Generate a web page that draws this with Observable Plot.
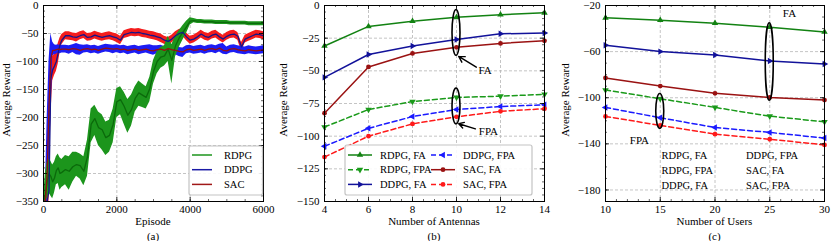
<!DOCTYPE html>
<html><head><meta charset="utf-8">
<script src="https://cdn.jsdelivr.net/npm/d3@7"></script>
<script src="https://cdn.jsdelivr.net/npm/@observablehq/plot@0.6"></script>
<style>
body{margin:0;background:#fff;}
#root{position:relative;width:831px;height:241px;overflow:hidden;font-family:"Liberation Serif","Times New Roman",serif;color:#000;}
.panel{position:absolute;top:0;}
.lbl{position:absolute;font-size:11px;white-space:nowrap;transform:translate(-50%,-50%);}
.ylbl{position:absolute;font-size:11px;white-space:nowrap;transform:translate(-50%,-50%) rotate(-90deg);}
</style></head><body><div id="root"></div>
<script>
// ---------- Panel (a): training curves ----------
const episodes = [0,50,100,150,200,250,300,350,400,450,500,600,700,800,900,1000,1100,1200,1300,1400,1500,1600,1700,1800,1900,2000,2100,2200,2300,2400,2500,2600,2700,2800,2900,3000,3100,3200,3300,3400,3500,3600,3700,3800,3900,4000,4100,4200,4300,4400,4500,4600,4700,4800,4900,5000,5100,5200,5300,5400,5500,5600,5700,5800,5900,6000];
const rdpgMean = [-350,-340,-315,-300,-305,-315,-308,-295,-290,-300,-298,-293,-296,-288,-284,-286,-296,-270,-212,-202,-218,-222,-236,-232,-212,-172,-168,-180,-196,-186,-166,-156,-160,-164,-148,-118,-100,-92,-90,-78,-98,-72,-58,-48,-38,-28,-27,-28,-28,-29,-29,-29,-30,-30,-30,-30,-31,-31,-31,-31,-31,-32,-32,-32,-32,-32];
const rdpgLo = [-350,-350,-345,-335,-340,-345,-335,-320,-318,-330,-325,-320,-330,-315,-305,-310,-322,-305,-245,-232,-250,-258,-268,-262,-245,-200,-195,-212,-228,-215,-190,-180,-182,-185,-172,-140,-122,-112,-108,-100,-140,-92,-75,-62,-50,-35,-31,-32,-32,-33,-33,-33,-34,-34,-34,-34,-35,-35,-35,-35,-35,-36,-36,-36,-36,-36];
const rdpgHi = [-345,-300,-280,-275,-278,-285,-280,-270,-265,-272,-275,-268,-270,-262,-262,-265,-270,-240,-185,-178,-190,-195,-208,-205,-185,-148,-145,-155,-168,-160,-145,-135,-140,-145,-128,-98,-82,-75,-72,-55,-70,-55,-45,-36,-28,-22,-23,-25,-25,-26,-26,-26,-27,-27,-27,-27,-28,-28,-28,-28,-28,-29,-29,-29,-29,-29];
const ddpgMean = [-350,-350,-350,-330,-130,-115,-108,-100,-85,-70,-62,-54,-54,-56,-57,-54,-52,-57,-56,-53,-55,-57,-55,-54,-56,-58,-62,-52,-50,-48,-49,-48,-50,-51,-53,-54,-56,-58,-62,-64,-60,-54,-50,-48,-56,-62,-60,-56,-51,-55,-57,-53,-51,-56,-60,-55,-52,-51,-55,-74,-60,-57,-54,-51,-52,-54];
const ddpgLo = [-350,-350,-350,-350,-200,-135,-125,-118,-105,-85,-70,-61,-62,-63,-65,-61,-59,-64,-63,-60,-62,-64,-62,-61,-63,-66,-70,-59,-57,-55,-56,-55,-57,-58,-60,-61,-63,-66,-69,-72,-67,-61,-57,-55,-63,-69,-67,-63,-58,-62,-64,-60,-58,-63,-67,-62,-59,-58,-62,-82,-67,-64,-61,-58,-59,-61];
const ddpgHi = [-350,-350,-345,-250,-100,-90,-88,-82,-68,-58,-52,-47,-47,-49,-50,-47,-45,-50,-49,-46,-48,-50,-48,-47,-49,-51,-55,-45,-43,-41,-42,-41,-43,-44,-46,-47,-49,-51,-55,-57,-53,-47,-43,-41,-49,-55,-53,-49,-44,-48,-50,-46,-44,-49,-53,-48,-45,-44,-48,-66,-53,-50,-47,-44,-45,-47];
const sacMean = [-350,-350,-300,-180,-95,-80,-80,-79,-78,-79,-78,-78,-79,-77,-78,-80,-78,-77,-79,-78,-80,-78,-76,-77,-78,-77,-79,-78,-80,-79,-78,-80,-79,-78,-80,-81,-79,-78,-80,-77,-79,-80,-82,-83,-79,-78,-80,-79,-78,-80,-78,-77,-79,-76,-80,-81,-78,-77,-79,-80,-81,-79,-80,-81,-80,-79];
const sacLo = [-350,-350,-350,-300,-200,-90,-88,-87,-85,-86,-85,-85,-87,-84,-88,-89,-85,-84,-86,-85,-87,-85,-83,-84,-86,-84,-86,-85,-88,-86,-85,-88,-86,-85,-87,-89,-86,-85,-87,-84,-87,-88,-91,-93,-86,-85,-87,-86,-85,-87,-85,-84,-86,-83,-87,-88,-85,-84,-86,-87,-88,-86,-87,-88,-87,-86];
const sacHi = [-350,-330,-200,-100,-50,-65,-70,-71,-70,-72,-71,-71,-72,-70,-68,-70,-71,-70,-72,-71,-73,-71,-69,-70,-71,-70,-72,-71,-73,-72,-71,-73,-72,-71,-70,-72,-72,-71,-73,-70,-72,-73,-75,-76,-72,-71,-73,-72,-71,-73,-71,-70,-72,-69,-68,-74,-71,-70,-72,-73,-74,-72,-73,-74,-73,-72];
const legendA = ["RDPG","DDPG","SAC"];

// ---------- Panel (b): vs number of antennas ----------
const antennas = [4,6,8,10,12,14];
const rdpgFA_b  = [-31,-16,-12,-9,-7,-5.6];
const rdpgFPA_b = [-93,-79.6,-73.5,-70.4,-69.4,-68];
const ddpgFA_b  = [-55,-37.5,-31,-26,-21.7,-21];
const ddpgFPA_b = [-107.7,-94,-85,-79.6,-77.3,-76];
const sacFA_b   = [-82.4,-47,-36.7,-32,-29,-27];
const sacFPA_b  = [-116,-100,-90.6,-85.2,-81,-79];

// ---------- Panel (c): vs number of users ----------
const users = [10,15,20,25,30];
const rdpgFA_c  = [-30.7,-32.8,-35.4,-38.8,-42.9];
const rdpgFPA_c = [-93.3,-100.9,-108.4,-116,-120.9];
const ddpgFA_c  = [-54.5,-60,-62.9,-68.1,-70.7];
const ddpgFPA_c = [-108.4,-117.4,-125.8,-130.1,-135];
const sacFA_c   = [-82.9,-89.9,-96.2,-99.7,-102];
const sacFPA_c  = [-116.2,-124,-131.6,-136,-140.9];

const seriesNames = ["RDPG, FA","RDPG, FPA","DDPG, FA","DDPG, FPA","SAC, FA","SAC, FPA"];

// annotations (data coordinates)
const ellipsesB = [{x:10, top:-3.5, bottom:-38.5},{x:10, top:-63.6, bottom:-91}];
const arrowsB = [{x1:10.9,y1:-47.2,x2:10.1,y2:-39},{x1:10.86,y1:-94.4,x2:10.1,y2:-90.5}];
const notesB = [{x:11.3,y:-49.7,t:"FA"},{x:11.45,y:-96.2,t:"FPA"}];
const ellipsesC = [{x:25, top:-35.4, bottom:-102.6},{x:15, top:-96.8, bottom:-127}];
const notesC = [{x:26.8,y:-27.3,t:"FA"},{x:13.1,y:-136.8,t:"FPA"}];

// ---------- styles ----------
const C = {
  rdpgBand:"#1c951c", rdpgLine:"#0b6a0b", rdpgLeg:"#1c951c",
  upBand:"#f41c1c", upLine:"#15158a", lowBand:"#1c1cf4", lowLine:"#941010",
  ddpgLeg:"#1a1aa6", sacLeg:"#a01818",
  fa:{RDPG:"#128212", DDPG:"#12129a", SAC:"#9a1212"},
  fpa:{RDPG:"#1a9a1a", DDPG:"#1a1aff", SAC:"#ff1a1a"}
};
const fmt = d => d < 0 ? "\u2212" + Math.abs(d) : String(d);
function triSym(deg){ return {draw(ctx,size){ const R=Math.sqrt(size/1.299); for(let i=0;i<3;i++){const a=(deg+i*120-90)*Math.PI/180; const x=R*Math.cos(a), y=R*Math.sin(a); if(i) ctx.lineTo(x,y); else ctx.moveTo(x,y);} ctx.closePath(); }}; }
const SYM = {"RDPG, FA":triSym(0),"RDPG, FPA":triSym(180),"DDPG, FA":triSym(90),"DDPG, FPA":triSym(270),"SAC, FA":d3.symbolCircle,"SAC, FPA":d3.symbolCircle};
const COL = {"RDPG, FA":C.fa.RDPG,"RDPG, FPA":C.fpa.RDPG,"DDPG, FA":C.fa.DDPG,"DDPG, FPA":C.fpa.DDPG,"SAC, FA":C.fa.SAC,"SAC, FPA":C.fpa.SAC};
const DASH = name => name.endsWith("FPA") ? "5,3" : null;

const H = 225, MT = 5, MB = 24;
function range(a,b,s){ const r=[]; for(let v=a; v<=b+1e-9; v+=s) r.push(+v.toFixed(6)); return r; }

function panel({width, ml, mr, xDomain, yDomain, xMajor, xMinor, yMajor, yMinor, marks}) {
  const iw = width - ml - mr, ih = H - MT - MB;
  return Plot.plot({
    width, height: H, marginLeft: ml, marginRight: mr, marginTop: MT, marginBottom: MB,
    x: {domain: xDomain}, y: {domain: yDomain},
    style: {fontFamily: "'Liberation Serif','Times New Roman',serif", fontSize: "11px", color: "black", background: "transparent", overflow: "visible"},
    marks: [
      Plot.ruleX(xMajor, {stroke: "#b5b5b5", strokeDasharray: "3,2", strokeWidth: 0.8}),
      Plot.ruleY(yMajor, {stroke: "#b5b5b5", strokeDasharray: "3,2", strokeWidth: 0.8}),
      ...marks,
      Plot.tickX(xMajor, {insetTop: ih-4, stroke: "black", strokeWidth: 0.8}),
      Plot.tickX(xMajor, {insetBottom: ih-4, stroke: "black", strokeWidth: 0.8}),
      Plot.tickX(xMinor, {insetTop: ih-2, stroke: "black", strokeWidth: 0.6}),
      Plot.tickX(xMinor, {insetBottom: ih-2, stroke: "black", strokeWidth: 0.6}),
      Plot.tickY(yMajor, {insetRight: iw-4, stroke: "black", strokeWidth: 0.8}),
      Plot.tickY(yMajor, {insetLeft: iw-4, stroke: "black", strokeWidth: 0.8}),
      Plot.tickY(yMinor, {insetRight: iw-2, stroke: "black", strokeWidth: 0.6}),
      Plot.tickY(yMinor, {insetLeft: iw-2, stroke: "black", strokeWidth: 0.6}),
      Plot.frame({stroke: "black", strokeWidth: 1}),
      Plot.axisX(xMajor, {tickSize: 0, tickPadding: 4, tickFormat: fmt, label: null, fontSize: 11}),
      Plot.axisY(yMajor, {tickSize: 0, tickPadding: 5, tickFormat: fmt, label: null, fontSize: 11})
    ]
  });
}

function ellipseMark(list){
  return (index, scales) => {
    const g = d3.create("svg:g");
    for (const e of list) {
      const cx = scales.x(e.x), y1 = scales.y(e.top), y2 = scales.y(e.bottom);
      g.append("ellipse").attr("cx", cx).attr("cy", (y1+y2)/2).attr("rx", 4).attr("ry", Math.abs(y2-y1)/2)
        .attr("fill","none").attr("stroke","black").attr("stroke-width",1.6);
    }
    return g.node();
  };
}

function seriesMarks(xs, table){
  const out = [];
  for (const name of seriesNames) {
    const rows = xs.map((x,i) => ({x, y: table[name][i]}));
    out.push(Plot.line(rows, {x:"x", y:"y", stroke: COL[name], strokeWidth: 1.5, strokeDasharray: DASH(name)}));
    out.push(Plot.dot(rows, {x:"x", y:"y", symbol: SYM[name], r: 2.4, fill: COL[name], stroke: "none"}));
  }
  return out;
}

const root = document.getElementById("root");
function place(node, left){ node.style.position="absolute"; node.style.left=left+"px"; node.style.top="0px"; root.appendChild(node); }

// Panel a
const rowsA = episodes.map((e,i) => ({e, rm:rdpgMean[i], rl:rdpgLo[i], rh:rdpgHi[i], dm:ddpgMean[i], dl:ddpgLo[i], dh:ddpgHi[i], sm:sacMean[i], sl:sacLo[i], sh:sacHi[i]}));
const plotA = panel({
  width: 277, ml: 43, mr: 14, xDomain: [0,6000], yDomain: [-350,0],
  xMajor: [0,2000,4000,6000], xMinor: range(0,6000,500), yMajor: range(-350,0,50), yMinor: range(-350,0,10),
  marks: [
    Plot.areaY(rowsA, {x:"e", y1:"dl", y2:"dh", fill: C.upBand, clip: true}),
    Plot.areaY(rowsA, {x:"e", y1:"sl", y2:"sh", fill: C.lowBand, clip: true}),
    Plot.areaY(rowsA, {x:"e", y1:"rl", y2:"rh", fill: C.rdpgBand, clip: true}),
    Plot.line(rowsA, {x:"e", y:"rm", stroke: C.rdpgLine, strokeWidth: 1.3, clip: true}),
    Plot.line(rowsA, {x:"e", y:"dm", stroke: C.upLine, strokeWidth: 1.3, clip: true}),
    Plot.line(rowsA, {x:"e", y:"sm", stroke: C.lowLine, strokeWidth: 1.3, clip: true})
  ]
});
place(plotA, 0);

// Panel b
const tableB = {"RDPG, FA":rdpgFA_b,"RDPG, FPA":rdpgFPA_b,"DDPG, FA":ddpgFA_b,"DDPG, FPA":ddpgFPA_b,"SAC, FA":sacFA_b,"SAC, FPA":sacFPA_b};
const plotB = panel({
  width: 277, ml: 47, mr: 10, xDomain: [4,14], yDomain: [-150,0],
  xMajor: antennas, xMinor: range(4,14,0.5), yMajor: range(-150,0,25), yMinor: range(-150,0,5),
  marks: [
    ...seriesMarks(antennas, tableB),
    ellipseMark(ellipsesB),
    Plot.arrow(arrowsB, {x1:"x1", y1:"y1", x2:"x2", y2:"y2", stroke:"black", strokeWidth:1.4, headLength:7}),
    Plot.text(notesB, {x:"x", y:"y", text:"t", fontSize: 11, fill:"black"})
  ]
});
place(plotB, 277);

// Panel c
const tableC = {"RDPG, FA":rdpgFA_c,"RDPG, FPA":rdpgFPA_c,"DDPG, FA":ddpgFA_c,"DDPG, FPA":ddpgFPA_c,"SAC, FA":sacFA_c,"SAC, FPA":sacFPA_c};
const plotC = panel({
  width: 277, ml: 51, mr: 7, xDomain: [10,30], yDomain: [-190,-20],
  xMajor: users, xMinor: range(10,30,1), yMajor: [-180,-140,-100,-60,-20], yMinor: range(-190,-20,10),
  marks: [
    ...seriesMarks(users, tableC),
    ellipseMark(ellipsesC),
    Plot.text(notesC, {x:"x", y:"y", text:"t", fontSize: 11, fill:"black"})
  ]
});
place(plotC, 554);

// Axis titles & captions
const texts = [
  ["ylbl","Average Reward",6,100],["lbl","Episode",153,221],["lbl","(a)",153,236],
  ["ylbl","Average Reward",283,100],["lbl","Number of Antennas",434,221],["lbl","(b)",434,236],
  ["ylbl","Average Reward",565,100],["lbl","Number of Users",714.5,221],["lbl","(c)",714.5,236]
];
for (const [cls,t,x,y] of texts) { const d=document.createElement("div"); d.className=cls; d.textContent=t; d.style.left=x+"px"; d.style.top=y+"px"; root.appendChild(d); }

// Legends overlay
const ov = d3.select(root).append("svg").attr("width",831).attr("height",241)
  .style("position","absolute").style("left","0px").style("top","0px").style("pointer-events","none")
  .style("font-family","'Liberation Serif','Times New Roman',serif").style("font-size","10.5px");
// legend a
ov.append("rect").attr("x",189).attr("y",146).attr("width",73.5).attr("height",49).attr("rx",2)
  .attr("fill","white").attr("fill-opacity",0.9).attr("stroke","#c4c4c4").attr("stroke-width",1.2);
const legColA = [C.rdpgLeg, C.ddpgLeg, C.sacLeg];
legendA.forEach((name,i) => {
  const y = 155 + i*14.7;
  ov.append("line").attr("x1",192).attr("x2",212).attr("y1",y).attr("y2",y).attr("stroke",legColA[i]).attr("stroke-width",1.5);
  ov.append("text").attr("x",224).attr("y",y).attr("dy","0.35em").text(name);
});
// legend b
ov.append("rect").attr("x",345).attr("y",145).attr("width",187).attr("height",50).attr("rx",2)
  .attr("fill","white").attr("fill-opacity",0.9).attr("stroke","#c4c4c4").attr("stroke-width",1.2);
seriesNames.forEach((name,i) => {
  const col = Math.floor(i/3), row = i%3;
  const y = 155 + row*14.7;
  const lx1 = col ? 431 : 348, lx2 = col ? 455 : 372, tx = col ? 463 : 380;
  const l = ov.append("line").attr("x1",lx1).attr("x2",lx2).attr("y1",y).attr("y2",y).attr("stroke",COL[name]).attr("stroke-width",1.5);
  if (DASH(name)) l.attr("stroke-dasharray","5,3");
  ov.append("path").attr("transform",`translate(${(lx1+lx2)/2},${y})`).attr("d",d3.symbol(SYM[name], Math.PI*2.4*2.4)()).attr("fill",COL[name]);
  ov.append("text").attr("x",tx).attr("y",y).attr("dy","0.35em").text(name);
});
// legend c (text only)
seriesNames.forEach((name,i) => {
  const col = Math.floor(i/3), row = i%3;
  ov.append("text").attr("x", col ? 746 : 661.5).attr("y", 155 + row*15).attr("dy","0.35em").text(name);
});
</script></body></html>
